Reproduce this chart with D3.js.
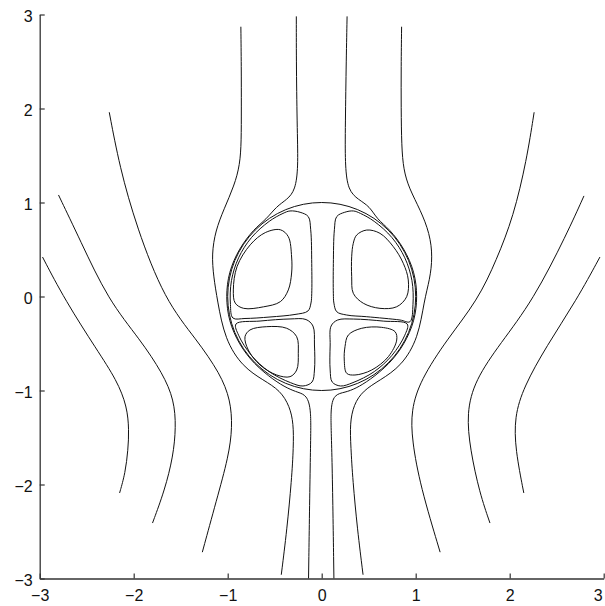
<!DOCTYPE html>
<html>
<head>
<meta charset="utf-8">
<script src="https://cdn.jsdelivr.net/npm/d3@7"></script>
<style>
  html, body { margin: 0; padding: 0; background: #fff; }
  svg { display: block; }
</style>
</head>
<body>
<script>
// ---- axis ticks ----
const xTicks = [-3, -2, -1, 0, 1, 2, 3];
const yTicks = [-3, -2, -1, 0, 1, 2, 3];

// ---- drop (unit circle) ----
const dropCenter = [0, 0];
const dropRadius = 1;

// ---- open streamlines outside the drop (x, y) ----
const outerLeft1 = [[-2.97,0.42],[-2.73,-0.04],[-2.39,-0.57],[-2.18,-0.89],[-2.07,-1.17],[-2.05,-1.42],[-2.06,-1.63],[-2.09,-1.88],[-2.15,-2.09]];
const outerLeft2 = [[-2.80,1.08],[-2.57,0.60],[-2.27,-0.04],[-1.93,-0.46],[-1.69,-0.82],[-1.57,-1.10],[-1.55,-1.39],[-1.58,-1.70],[-1.67,-2.06],[-1.80,-2.41]];
const outerLeft3 = [[-2.26,1.96],[-2.15,1.38],[-1.97,0.74],[-1.67,-0.04],[-1.33,-0.46],[-1.08,-0.82],[-0.97,-1.10],[-0.95,-1.39],[-0.99,-1.70],[-1.12,-2.17],[-1.27,-2.72]];
const outerRight3 = [[2.26,1.96],[2.18,1.45],[2.04,0.85],[1.86,0.39],[1.66,-0.04],[1.33,-0.46],[1.05,-0.89],[0.95,-1.21],[0.96,-1.53],[1.05,-2.02],[1.26,-2.72]];
const outerRight2 = [[2.79,1.07],[2.61,0.67],[2.25,-0.04],[1.90,-0.50],[1.63,-0.89],[1.54,-1.24],[1.58,-1.63],[1.68,-2.09],[1.79,-2.41]];
const outerRight1 = [[2.96,0.42],[2.71,-0.04],[2.39,-0.53],[2.15,-0.96],[2.05,-1.28],[2.06,-1.63],[2.15,-2.09]];

const nearLeft = [[-0.86,2.87],[-0.855,2.45],[-0.855,2.0],[-0.855,1.65],[-0.87,1.40],[-0.93,1.18],[-1.04,0.93],[-1.13,0.70],[-1.17,0.45],[-1.15,0.21],[-1.11,-0.04],[-1.03,-0.46],[-0.84,-0.75],[-0.62,-0.89],[-0.44,-1.00],[-0.34,-1.17],[-0.30,-1.35],[-0.30,-1.60],[-0.32,-1.95],[-0.37,-2.48],[-0.43,-2.96]];
const nearRight = [[0.85,2.87],[0.845,2.45],[0.845,2.0],[0.85,1.60],[0.87,1.35],[0.93,1.15],[1.05,0.92],[1.15,0.67],[1.18,0.42],[1.15,0.18],[1.09,-0.04],[1.03,-0.44],[0.85,-0.74],[0.62,-0.89],[0.44,-1.00],[0.34,-1.15],[0.30,-1.35],[0.31,-1.60],[0.33,-1.95],[0.38,-2.48],[0.44,-2.96]];
const hugLeft = [[-0.27,2.98],[-0.27,2.45],[-0.26,1.74],[-0.25,1.38],[-0.28,1.13],[-0.37,1.03],[-0.48,0.96],[-0.59,0.82],[-0.72,0.72],[-0.88,0.51],[-0.99,0.26],[-1.02,0.0],[-0.99,-0.26],[-0.88,-0.51],[-0.72,-0.72],[-0.51,-0.89],[-0.36,-0.98],[-0.25,-1.02],[-0.16,-1.05],[-0.11,-1.20],[-0.12,-1.60],[-0.14,-3.0]];
const hugRight = [[0.27,2.98],[0.26,2.45],[0.25,1.74],[0.25,1.38],[0.28,1.13],[0.39,1.03],[0.51,0.96],[0.59,0.82],[0.72,0.72],[0.88,0.51],[0.99,0.26],[1.02,0.0],[0.99,-0.26],[0.88,-0.51],[0.72,-0.72],[0.51,-0.89],[0.36,-0.98],[0.25,-1.02],[0.13,-1.04],[0.09,-1.20],[0.11,-1.60],[0.13,-3.0]];

// ---- closed streamlines inside the drop ----
const upperLeftOuter = [[-0.106,0.03],[-0.106,0.35],[-0.117,0.71],[-0.143,0.85],[-0.23,0.896],[-0.337,0.91],[-0.412,0.884],[-0.559,0.799],[-0.747,0.627],[-0.884,0.412],[-0.960,0.169],[-0.971,-0.085],[-0.944,-0.229],[-0.816,-0.234],[-0.55,-0.218],[-0.284,-0.191],[-0.146,-0.154],[-0.114,-0.069]];
const upperLeftInner = [[-0.44,0.71],[-0.355,0.636],[-0.32,0.42],[-0.32,0.25],[-0.355,0.07],[-0.44,-0.055],[-0.62,-0.11],[-0.83,-0.126],[-0.92,-0.07],[-0.94,0.07],[-0.90,0.32],[-0.76,0.55],[-0.60,0.68]];
const upperRightOuter = [[0.124,0.03],[0.124,0.35],[0.135,0.71],[0.16,0.85],[0.245,0.896],[0.337,0.91],[0.412,0.884],[0.559,0.799],[0.747,0.627],[0.884,0.412],[0.960,0.169],[0.971,-0.085],[0.939,-0.268],[0.833,-0.25],[0.479,-0.215],[0.266,-0.197],[0.16,-0.162],[0.13,-0.07]];
const upperRightInner = [[0.372,0.654],[0.479,0.707],[0.62,0.672],[0.762,0.53],[0.868,0.353],[0.921,0.176],[0.904,-0.002],[0.798,-0.109],[0.62,-0.126],[0.443,-0.072],[0.336,0.034],[0.319,0.211],[0.319,0.423],[0.336,0.566]];
const lowerLeftOuter = [[-0.912,-0.293],[-0.656,-0.261],[-0.337,-0.239],[-0.167,-0.245],[-0.093,-0.314],[-0.077,-0.516],[-0.077,-0.782],[-0.103,-0.91],[-0.199,-0.952],[-0.333,-0.916],[-0.559,-0.799],[-0.747,-0.627],[-0.884,-0.412]];
const lowerLeftInner = [[-0.763,-0.356],[-0.585,-0.321],[-0.372,-0.338],[-0.266,-0.428],[-0.249,-0.604],[-0.266,-0.782],[-0.337,-0.853],[-0.479,-0.835],[-0.656,-0.729],[-0.781,-0.569],[-0.816,-0.428]];
const lowerRightOuter = [[0.10,-0.314],[0.17,-0.25],[0.34,-0.24],[0.66,-0.262],[0.91,-0.293],[0.884,-0.412],[0.747,-0.627],[0.559,-0.799],[0.333,-0.916],[0.20,-0.952],[0.112,-0.91],[0.09,-0.782],[0.09,-0.516]];
const lowerRightInner = [[0.248,-0.534],[0.283,-0.41],[0.426,-0.338],[0.638,-0.328],[0.78,-0.374],[0.798,-0.463],[0.709,-0.64],[0.532,-0.782],[0.354,-0.835],[0.266,-0.817],[0.24,-0.676]];

const openLines = [outerLeft1, outerLeft2, outerLeft3, outerRight1, outerRight2, outerRight3, nearLeft, nearRight, hugLeft, hugRight];
const closedLines = [upperLeftOuter, upperLeftInner, upperRightOuter, upperRightInner, lowerLeftOuter, lowerLeftInner, lowerRightOuter, lowerRightInner];

// ---- drawing ----
const W = 605, H = 606;
const svg = d3.select("body").append("svg").attr("width", W).attr("height", H);

const x = d3.scaleLinear().domain([-3, 3]).range([39.7, 603.7]);
const y = d3.scaleLinear().domain([-3, 3]).range([578.5, 14.5]);

const openGen = d3.line().x(d => x(d[0])).y(d => y(d[1])).curve(d3.curveBasis);
const closedGen = d3.line().x(d => x(d[0])).y(d => y(d[1])).curve(d3.curveCatmullRomClosed.alpha(0.5));

const g = svg.append("g").attr("fill", "none").attr("stroke", "#111").attr("stroke-width", 1);
g.selectAll("path.open").data(openLines).join("path").attr("class", "open").attr("d", openGen);
g.selectAll("path.closed").data(closedLines).join("path").attr("class", "closed").attr("d", closedGen);
g.append("circle")
  .attr("cx", x(dropCenter[0])).attr("cy", y(dropCenter[1]))
  .attr("r", x(dropRadius) - x(0));

const font = "'Liberation Sans', Arial, Helvetica, sans-serif";
const fmt = d3.format("d");

const yAxis = svg.append("g").attr("transform", `translate(${x(-3)},0)`)
  .call(d3.axisLeft(y).tickValues(yTicks).tickFormat(fmt).tickSizeInner(-5).tickSizeOuter(0).tickPadding(7));
const xAxis = svg.append("g").attr("transform", `translate(0,${y(-3)})`)
  .call(d3.axisBottom(x).tickValues(xTicks).tickFormat(fmt).tickSizeInner(-5).tickSizeOuter(0).tickPadding(11));

[xAxis, yAxis].forEach(a => {
  a.select(".domain").attr("stroke", "#333").attr("stroke-width", 1.3);
  a.selectAll(".tick line").attr("stroke", "#333").attr("stroke-width", 1.2);
  a.selectAll(".tick text").attr("fill", "#111").style("font-family", font).style("font-size", "16px");
});
yAxis.selectAll(".tick text").attr("dy", "0.45em");
// keep the last x label inside the picture
xAxis.selectAll(".tick text").filter(d => d === 3).attr("text-anchor", "end").attr("dx", "-1.5");
</script>
</body>
</html>
